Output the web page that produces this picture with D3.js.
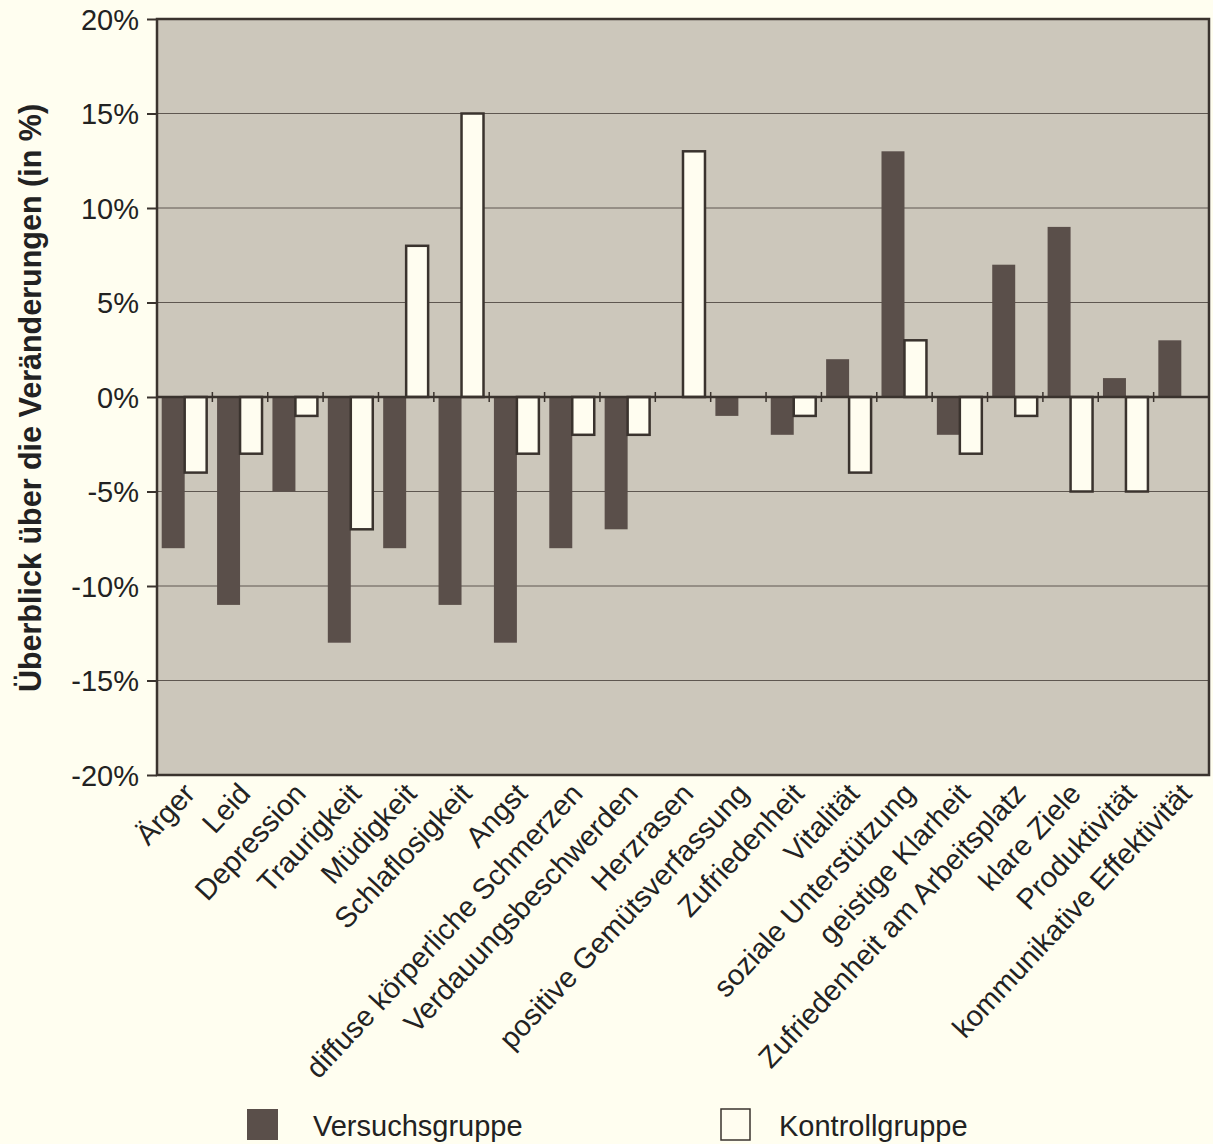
<!DOCTYPE html>
<html>
<head>
  <meta charset="utf-8">
  <style>
    body { margin: 0; background: #fffef0; font-family: 'Liberation Sans', Arial, sans-serif; }
    .tick-label { font-size: 29px; fill: #222; }
    .cat-label { font-size: 29px; fill: #222; }
    .legend-label { font-size: 29px; fill: #222; }
    .y-title { font-size: 30.5px; font-weight: bold; fill: #222; }
  </style>
</head>
<body>
  <script src="https://d3js.org/d3.v7.min.js"></script>
  <script>
  // data
  var categories = ["Ärger", "Leid", "Depression", "Traurigkeit", "Müdigkeit", "Schlaflosigkeit",
    "Angst", "diffuse körperliche Schmerzen", "Verdauungsbeschwerden", "Herzrasen",
    "positive Gemütsverfassung", "Zufriedenheit", "Vitalität", "soziale Unterstützung",
    "geistige Klarheit", "Zufriedenheit am Arbeitsplatz", "klare Ziele", "Produktivität",
    "kommunikative Effektivität"]
  var versuchsgruppe = [-8, -11, -5, -13, -8, -11, -13, -8, -7, 0, -1, -2, 2, 13, -2, 7, 9, 1, 3]
  var kontrollgruppe = [-4, -3, -1, -7, 8, 15, -3, -2, -2, 13, 0, -1, -4, 3, -3, -1, -5, -5, 0]
  var yTicks = [-20, -15, -10, -5, 0, 5, 10, 15, 20]
  var seriesNames = ["Versuchsgruppe", "Kontrollgruppe"]

  var width = 1213
  var height = 1144
  var margin = { left: 157, right: 4, top: 19, bottom: 369 }
  var darkCol = "#5a4f4a"
  var lightCol = "#fffdf0"
  var lineCol = "#3a332e"

  var svg = d3.select("body").append("svg")
    .attr("width", width)
    .attr("height", height)

  var x = d3.scaleBand()
    .domain(categories)
    .range([margin.left, width - margin.right])
    .paddingInner(0.17)
    .paddingOuter(0.085)

  var x0 = d3.scaleBand()
    .domain(categories)
    .range([margin.left, width - margin.right])

  var y = d3.scaleLinear()
    .domain([-20, 20])
    .range([height - margin.bottom, margin.top])

  // plot background
  svg.append("rect")
    .attr("x", margin.left)
    .attr("y", margin.top)
    .attr("width", width - margin.right - margin.left)
    .attr("height", y(-20) - margin.top)
    .attr("fill", "#ccc7bb")

  // gridlines
  svg.append("g")
    .selectAll("line")
    .data(yTicks.filter(function(d) { return d !== 0 && d !== -20 && d !== 20 }))
    .join("line")
    .attr("x1", margin.left)
    .attr("x2", width - margin.right)
    .attr("y1", function(d) { return y(d) })
    .attr("y2", function(d) { return y(d) })
    .attr("stroke", "#5e5750")
    .attr("stroke-width", 1)

  var bw = x.bandwidth() / 2

  // Versuchsgruppe bars
  svg.append("g")
    .selectAll("rect")
    .data(versuchsgruppe)
    .join("rect")
    .attr("x", function(d, i) { return x(categories[i]) })
    .attr("y", function(d) { return y(Math.max(0, d)) })
    .attr("width", bw)
    .attr("height", function(d) { return Math.abs(y(d) - y(0)) })
    .attr("fill", darkCol)

  // Kontrollgruppe bars
  svg.append("g")
    .selectAll("rect")
    .data(kontrollgruppe)
    .join("rect")
    .attr("x", function(d, i) { return x(categories[i]) + bw })
    .attr("y", function(d) { return y(Math.max(0, d)) })
    .attr("width", bw - 1)
    .attr("height", function(d) { return Math.abs(y(d) - y(0)) })
    .attr("fill", function(d) { return d === 0 ? "none" : lightCol })
    .attr("stroke", function(d) { return d === 0 ? "none" : lineCol })
    .attr("stroke-width", 2.5)

  // zero line with small category ticks
  svg.append("line")
    .attr("x1", margin.left)
    .attr("x2", width - margin.right)
    .attr("y1", y(0))
    .attr("y2", y(0))
    .attr("stroke", lineCol)
    .attr("stroke-width", 2.5)

  svg.append("g")
    .selectAll("line")
    .data(categories.slice(1))
    .join("line")
    .attr("x1", function(d) { return x0(d) })
    .attr("x2", function(d) { return x0(d) })
    .attr("y1", y(0) - 5)
    .attr("y2", y(0) + 5)
    .attr("stroke", lineCol)
    .attr("stroke-width", 1.5)

  // frame
  svg.append("rect")
    .attr("x", margin.left)
    .attr("y", margin.top)
    .attr("width", width - margin.right - margin.left)
    .attr("height", y(-20) - margin.top)
    .attr("fill", "none")
    .attr("stroke", lineCol)
    .attr("stroke-width", 2.5)

  // y axis
  var yAxis = svg.append("g")
    .attr("transform", "translate(" + margin.left + ",0)")
    .call(d3.axisLeft(y).tickValues(yTicks).tickSize(10).tickPadding(8)
      .tickFormat(function(d) { return d + "%" }))
  yAxis.select(".domain").remove()
  yAxis.selectAll(".tick line").attr("stroke", lineCol).attr("stroke-width", 2)
  yAxis.selectAll(".tick text")
    .attr("class", "tick-label")
    .attr("font-family", null)
    .attr("font-size", null)
    .attr("dy", "0.36em")

  // category labels
  svg.append("g")
    .selectAll("text")
    .data(categories)
    .join("text")
    .attr("class", "cat-label")
    .attr("text-anchor", "end")
    .attr("transform", function(d) {
      return "translate(" + (x0(d) + x0.bandwidth() / 2 + 12) + "," + (y(-20) + 20) + ") rotate(-47)"
    })
    .text(function(d) { return d })

  // y title
  svg.append("text")
    .attr("class", "y-title")
    .attr("text-anchor", "middle")
    .attr("transform", "translate(41," + (y(0) + 1) + ") rotate(-90)")
    .text("Überblick über die Veränderungen (in %)")

  // legend
  var legendX = [247, 720]
  var legend = svg.append("g")
    .selectAll("g")
    .data(seriesNames)
    .join("g")
    .attr("transform", function(d, i) { return "translate(" + legendX[i] + ",1109)" })

  legend.append("rect")
    .attr("width", function(d, i) { return i === 0 ? 31 : 29 })
    .attr("height", 31)
    .attr("x", function(d, i) { return i === 0 ? 0 : 1 })
    .attr("fill", function(d, i) { return i === 0 ? darkCol : lightCol })
    .attr("stroke", function(d, i) { return i === 0 ? "none" : lineCol })
    .attr("stroke-width", 1.5)

  legend.append("text")
    .attr("class", "legend-label")
    .attr("x", function(d, i) { return i === 0 ? 66 : 59 })
    .attr("y", 27)
    .text(function(d) { return d })
  </script>
</body>
</html>
